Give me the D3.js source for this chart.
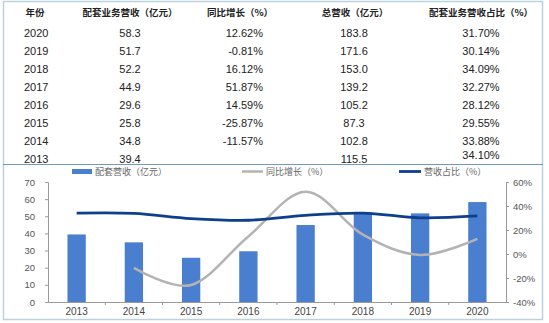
<!DOCTYPE html>
<html><head><meta charset="utf-8">
<script src="https://cdn.jsdelivr.net/npm/d3@7"></script>
<style>html,body{margin:0;padding:0;background:#fff;}svg{display:block;}</style>
</head><body>
<svg id="c" width="549" height="323"></svg>
<script>
const headers = ["年份","配套业务营收（亿元）","同比增长（%）","总营收（亿元）","配套业务营收占比（%）"];
const tableYears = ["2020","2019","2018","2017","2016","2015","2014","2013"];
const peiTao = ["58.3","51.7","52.2","44.9","29.6","25.8","34.8","39.4"];
const growthText = ["12.62%","-0.81%","16.12%","51.87%","14.59%","-25.87%","-11.57%",""];
const totalRev = ["183.8","171.6","153.0","139.2","105.2","87.3","102.8","115.5"];
const ratioText = ["31.70%","30.14%","34.09%","32.27%","28.12%","29.55%","33.88%","34.10%"];

const years = ["2013","2014","2015","2016","2017","2018","2019","2020"];
const revenue = [39.4,34.8,25.8,29.6,44.9,52.2,51.7,58.3];
const growth = [null,-11.57,-25.87,14.59,51.87,16.12,-0.81,12.62];
const ratio = [34.10,33.88,29.55,28.12,32.27,34.09,30.14,31.70];
const leftTicks = [0,10,20,30,40,50,60,70];
const rightTicks = [-40,-20,0,20,40,60];
const legendLabels = ["配套营收（亿元）","同比增长（%）","营收占比（%）"];

const svg = d3.select("#c");
const cjk = "'Noto Sans CJK SC', sans-serif";
const num = "'Liberation Sans', Arial, sans-serif";

// frame
svg.append("rect").attr("x",3.5).attr("y",1.5).attr("width",539).attr("height",318)
  .attr("fill","none").attr("stroke","#b9d2de").attr("stroke-width",1.5);
svg.append("line").attr("x1",3).attr("x2",543).attr("y1",164.5).attr("y2",164.5)
  .attr("stroke","#6d9cbd").attr("stroke-width",1.2);

// table
const colX = [35,130,240,355,481];
const rowY = d3.scaleLinear().domain([0,7]).range([37,163]);
svg.selectAll("text.h").data(headers).join("text").attr("class","h")
  .attr("x",(d,i)=>colX[i]).attr("y",16).attr("text-anchor","middle")
  .attr("font-family",cjk).attr("font-weight","bold").attr("font-size",9.5).attr("fill","#222").text(d=>d);
const tbl = svg.append("g").attr("font-family",num).attr("font-size",11).attr("fill","#222");
tableYears.forEach((y,i)=>{
  const yy = rowY(i);
  tbl.append("text").attr("x",24).attr("y",yy).text(y);
  tbl.append("text").attr("x",130).attr("y",yy).attr("text-anchor","middle").text(peiTao[i]);
  tbl.append("text").attr("x",263).attr("y",yy).attr("text-anchor","end").text(growthText[i]);
  tbl.append("text").attr("x",354).attr("y",yy).attr("text-anchor","middle").text(totalRev[i]);
  tbl.append("text").attr("x",481).attr("y",i===7?yy-4:yy).attr("text-anchor","middle").text(ratioText[i]);
});

// chart
const x = d3.scaleBand().domain(years).range([48,506]).paddingInner(0.68).paddingOuter(0.34);
const yL = d3.scaleLinear().domain([0,70]).range([302,182]);
const yR = d3.scaleLinear().domain([-40,60]).range([302,182]);

const axL = svg.append("g").attr("transform","translate(48,0)")
  .call(d3.axisLeft(yL).tickValues(leftTicks).tickSize(3).tickPadding(10));
const axR = svg.append("g").attr("transform","translate(506,0)")
  .call(d3.axisRight(yR).tickValues(rightTicks).tickSize(3).tickPadding(4).tickFormat(d=>d+"%"));
[axL,axR].forEach(a=>{
  a.select(".domain").attr("stroke","#999");
  a.selectAll(".tick line").attr("stroke","#999");
  a.selectAll("text").attr("fill","#555").attr("font-family",num).attr("font-size",9.5);
});

svg.selectAll("rect.bar").data(revenue).join("rect").attr("class","bar")
  .attr("x",(d,i)=>x(years[i])).attr("width",x.bandwidth())
  .attr("y",d=>yL(d)).attr("height",d=>yL(0)-yL(d)).attr("fill","#4a7fcf");

// x axis
const ax = svg.append("g").attr("transform","translate(0,302)")
  .call(d3.axisBottom(x).tickSize(0).tickPadding(6));
ax.select(".domain").attr("stroke","#999");
ax.selectAll("text").attr("fill","#444").attr("font-family",num).attr("font-size",10);
const step = x.step();
svg.selectAll("line.xt").data(d3.range(1,8)).join("line").attr("class","xt")
  .attr("x1",d=>48+d*step).attr("x2",d=>48+d*step).attr("y1",302).attr("y2",305).attr("stroke","#999");

const cx = i => x(years[i]) + x.bandwidth()/2;
const gLine = d3.line().defined(d=>d!==null).x((d,i)=>cx(i)).y(d=>yR(d)).curve(d3.curveCardinal.tension(0));
svg.append("path").datum(growth).attr("d",gLine).attr("fill","none")
  .attr("stroke","#b3b3b3").attr("stroke-width",2.5);
const rLine = d3.line().x((d,i)=>cx(i)).y(d=>yR(d)).curve(d3.curveCardinal.tension(0));
svg.append("path").datum(ratio).attr("d",rLine).attr("fill","none")
  .attr("stroke","#0e3f8f").attr("stroke-width",2.8);

// legend
const lg = svg.append("g").attr("font-family",cjk).attr("font-size",9).attr("fill","#666");
lg.append("rect").attr("x",72).attr("y",169).attr("width",20).attr("height",5).attr("fill","#4a7fcf");
lg.append("text").attr("x",95).attr("y",175).text(legendLabels[0]);
lg.append("line").attr("x1",242).attr("x2",263).attr("y1",171.5).attr("y2",171.5).attr("stroke","#b3b3b3").attr("stroke-width",2.5);
lg.append("text").attr("x",266).attr("y",175).text(legendLabels[1]);
lg.append("line").attr("x1",399).attr("x2",421).attr("y1",171.5).attr("y2",171.5).attr("stroke","#0e3f8f").attr("stroke-width",2.8);
lg.append("text").attr("x",424).attr("y",175).text(legendLabels[2]);
</script>
</body></html>
